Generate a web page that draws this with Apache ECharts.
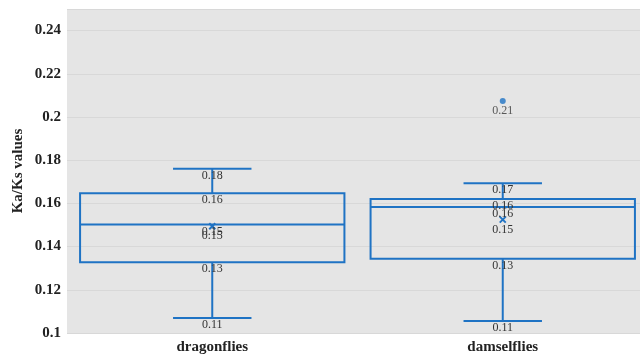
<!DOCTYPE html>
<html>
<head>
<meta charset="utf-8">
<script src="https://cdn.jsdelivr.net/npm/echarts@6/dist/echarts.min.js"></script>
<style>
  html, body { margin: 0; padding: 0; background: #ffffff; }
  #chart { width: 640px; height: 358px; }
</style>
</head>
<body>
<div id="chart"></div>
<script>
// Ka/Ks box plot summaries for the two insect groups
const categories = ['dragonflies', 'damselflies'];
const lowerWhisker = [0.107, 0.1056];
const q1 = [0.1328, 0.1344];
const median = [0.1502, 0.1583];
const q3 = [0.1647, 0.162];
const upperWhisker = [0.176, 0.1693];
const means = [0.1494, 0.1525];
const outliers = [[1, 0.2074]];

const yTicks = { min: 0.1, max: 0.25, interval: 0.02 };

const BLUE = '#1f73c4';
const SERIF = '"Liberation Serif", "DejaVu Serif", serif';

const boxRows = categories.map((c, i) => [i, lowerWhisker[i], q1[i], median[i], q3[i], upperWhisker[i], means[i]]);

function fmt(v) { return v.toFixed(2); }

function valueLabel(x, y, v, dy) {
  return {
    type: 'text',
    style: {
      x: x, y: y + dy, text: fmt(v),
      align: 'center', verticalAlign: 'top',
      font: '12px ' + SERIF, fill: '#333333'
    },
    z2: 5
  };
}

function renderBox(params, api) {
  const i = api.value(0);
  const band = api.size([1, 0])[0];
  const cx = api.coord([i, 0])[0];
  const y = k => api.coord([i, api.value(k)])[1];
  const yLow = y(1), yQ1 = y(2), yMed = y(3), yQ3 = y(4), yUp = y(5), yMean = y(6);
  const halfBox = band * 0.455;
  const halfCap = band * 0.135;
  const ls = { stroke: BLUE, lineWidth: 2, fill: null };
  const children = [
    { type: 'rect', shape: { x: cx - halfBox, y: yQ3, width: halfBox * 2, height: yQ1 - yQ3 }, style: ls },
    { type: 'line', shape: { x1: cx - halfBox, y1: yMed, x2: cx + halfBox, y2: yMed }, style: ls },
    { type: 'line', shape: { x1: cx, y1: yQ3, x2: cx, y2: yUp }, style: ls },
    { type: 'line', shape: { x1: cx, y1: yQ1, x2: cx, y2: yLow }, style: ls },
    { type: 'line', shape: { x1: cx - halfCap, y1: yUp, x2: cx + halfCap, y2: yUp }, style: ls },
    { type: 'line', shape: { x1: cx - halfCap, y1: yLow, x2: cx + halfCap, y2: yLow }, style: ls },
    // mean marker (x)
    { type: 'line', shape: { x1: cx - 3, y1: yMean - 3, x2: cx + 3, y2: yMean + 3 }, style: ls },
    { type: 'line', shape: { x1: cx - 3, y1: yMean + 3, x2: cx + 3, y2: yMean - 3 }, style: ls },
    valueLabel(cx, yUp, api.value(5), 1),
    valueLabel(cx, yQ3, api.value(4), 1),
    valueLabel(cx, yMed, api.value(3), 1),
    valueLabel(cx, yMean, api.value(6), 4),
    valueLabel(cx, yQ1, api.value(2), 1),
    valueLabel(cx, yLow, api.value(1), 1)
  ];
  return { type: 'group', children: children };
}

const chart = echarts.init(document.getElementById('chart'), null, { renderer: 'canvas' });
chart.setOption({
  animation: false,
  backgroundColor: '#ffffff',
  grid: {
    left: 67, top: 9, width: 581, height: 324,
    outerBoundsMode: 'none',
    containLabel: false,
    show: true, backgroundColor: '#e5e5e5', borderWidth: 0
  },
  xAxis: {
    type: 'category',
    data: categories,
    axisLine: { show: false },
    axisTick: { show: false },
    axisLabel: { margin: 7, fontFamily: SERIF, fontWeight: 'bold', fontSize: 15, color: '#222222' },
    splitLine: { show: false }
  },
  yAxis: {
    type: 'value',
    min: yTicks.min, max: yTicks.max, interval: yTicks.interval,
    name: 'Ka/Ks values',
    nameLocation: 'middle',
    nameGap: 41,
    nameMoveOverlap: false,
    nameTextStyle: { fontFamily: SERIF, fontWeight: 'bold', fontSize: 15, color: '#222222' },
    axisLine: { show: false },
    axisTick: { show: false },
    axisLabel: { margin: 6, fontFamily: SERIF, fontWeight: 'bold', fontSize: 15, color: '#222222', showMaxLabel: false },
    splitLine: { show: true, lineStyle: { color: '#d8d8d8', width: 1 } }
  },
  series: [
    {
      type: 'custom',
      renderItem: renderBox,
      data: boxRows,
      encode: { x: 0, y: [1, 2, 3, 4, 5, 6] },
      z: 3
    },
    {
      type: 'scatter',
      data: outliers,
      symbol: 'circle',
      symbolSize: 6,
      itemStyle: { color: BLUE },
      label: {
        show: true, position: 'bottom', distance: 1,
        formatter: p => fmt(p.value[1]),
        fontFamily: SERIF, fontSize: 12, color: '#333333'
      },
      z: 4
    }
  ]
});
</script>
</body>
</html>
